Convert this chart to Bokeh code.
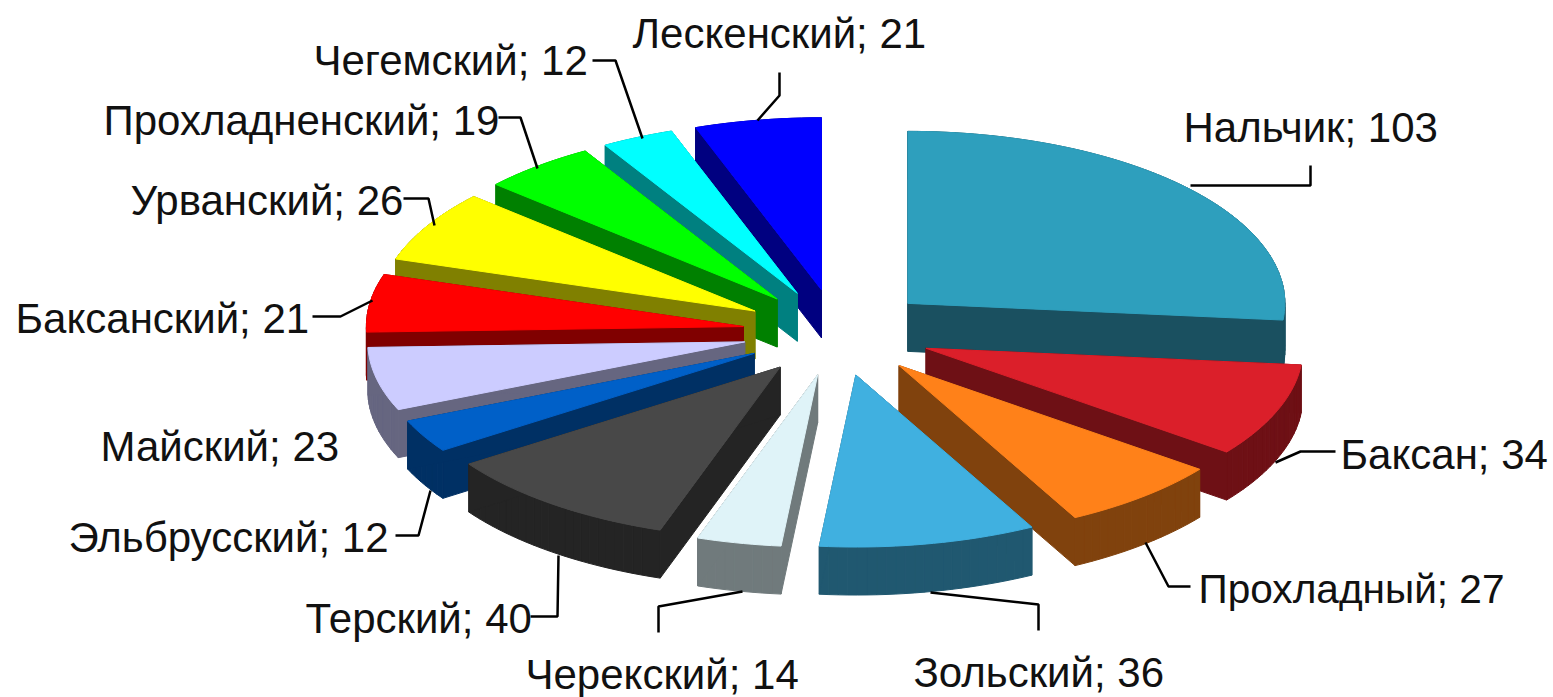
import math
from bokeh.plotting import figure
from bokeh.models import Range1d, ColumnDataSource
from bokeh.core.properties import value
from bokeh.embed import file_html
from bokeh.resources import INLINE

names = ["Нальчик", "Баксан", "Прохладный", "Зольский", "Черекский", "Терский", "Эльбрусский",
         "Майский", "Баксанский", "Урванский", "Прохладненский", "Чегемский", "Лескенский"]
counts = [103, 34, 27, 36, 14, 40, 12, 23, 21, 26, 19, 12, 21]
top_colors = ["#2E9FBD", "#DB1F2A", "#FF8119", "#40B0E0", "#DFF3F8", "#484848", "#0060C8",
              "#CCCCFF", "#FF0000", "#FFFF00", "#00FF00", "#00FFFF", "#0000FF"]
side_colors = ["#1A5060", "#6E1015", "#80420D", "#205870", "#707A7C", "#242424", "#003064",
               "#666680", "#800000", "#808000", "#008000", "#008080", "#000080"]

# layout (page pixels)
label_x = [1183, 1340, 1198, 913, 525, 305, 68, 100, 15, 130, 103, 313, 632]
label_y = [127, 454, 588, 672, 674, 618, 537, 446, 318, 200, 120, 60, 33]
label_size = ["42px", "42px", "40.6px", "42px", "42px", "42px", "42px", "42px", "42px", "42px", "42px", "42px", "42px"]
leader_x = [[1310, 1310, 1190], [1335, 1300, 1275], [1190, 1168, 1145], [1038, 1038, 930],
            [658, 658, 742], [530, 557, 558], [395, 418, 430], [], [312, 340, 372],
            [403, 428, 434], [498, 520, 537], [592, 615, 642], [779, 779, 757]]
leader_y = [[165, 185, 185], [451, 451, 462], [586, 586, 542], [630, 604, 592],
            [632, 606, 591], [616, 616, 555], [535, 535, 490], [], [316, 316, 300],
            [198, 198, 225], [117, 117, 168], [60, 60, 138], [72, 95, 120]]
CX, CY, RX, RY, EXPLODE, DEPTH = 837, 332, 377, 172, 95, 48

p = figure(width=1553, height=697, output_backend="svg", toolbar_location=None,
           x_range=Range1d(0, 1553), y_range=Range1d(697, 0), min_border=0)
p.axis.visible = False
p.grid.visible = False
p.outline_line_color = None
p.background_fill_color = "white"

total = sum(counts)
slices = []
cum = 0
for i, c in enumerate(counts):
    a0 = cum / total * 2 * math.pi
    cum += c
    a1 = cum / total * 2 * math.pi
    slices.append((i, a0, a1, (a0 + a1) / 2))
slices.sort(key=lambda s: -math.cos(s[3]))

for i, a0, a1, mid in slices:
    ax = CX + EXPLODE * math.sin(mid)
    ay = CY - EXPLODE * math.cos(mid) * RY / RX
    n = max(4, int((a1 - a0) * 40))
    px = [ax] + [ax + RX * math.sin(a0 + (a1 - a0) * k / n) for k in range(n + 1)]
    py = [ay] + [ay - RY * math.cos(a0 + (a1 - a0) * k / n) for k in range(n + 1)]
    wx, wy = [], []
    m = len(px)
    for k in range(m):
        j = (k + 1) % m
        wx.append([px[k], px[j], px[j], px[k]])
        wy.append([py[k], py[j], py[j] + DEPTH, py[k] + DEPTH])
    p.patches(wx, wy, fill_color=side_colors[i], line_color=side_colors[i], line_width=1)
    p.patch(px, py, fill_color=top_colors[i], line_color=top_colors[i], line_width=1)

lx = [a for a in leader_x if a]
ly = [a for a in leader_y if a]
p.multi_line(lx, ly, line_color="black", line_width=2.5)

src = ColumnDataSource(dict(x=label_x, y=label_y, s=label_size,
                            t=[f"{n}; {c}" for n, c in zip(names, counts)]))
p.text("x", "y", "t", source=src, text_font=value("Liberation Sans"), text_font_size="s",
       text_align="left", text_baseline="middle", text_color="#111111")

open("out.html", "w").write(file_html(p, INLINE))
